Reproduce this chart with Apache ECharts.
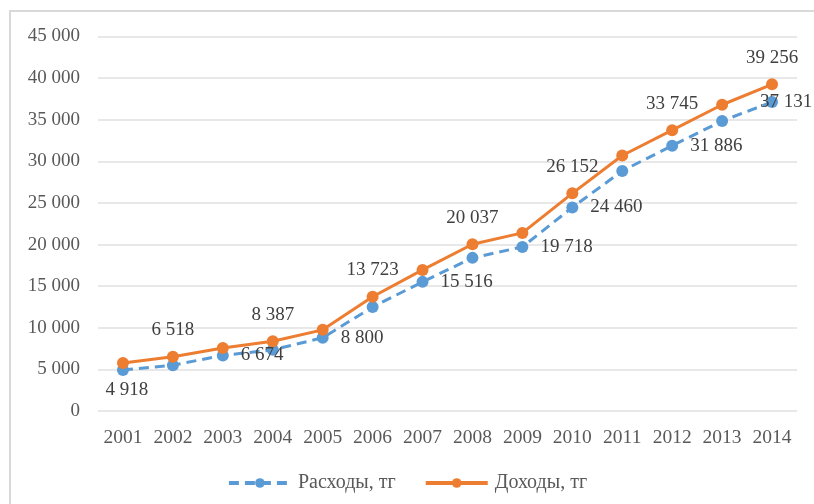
<!DOCTYPE html>
<html>
<head>
<meta charset="utf-8">
<script src="https://cdn.jsdelivr.net/npm/echarts@6/dist/echarts.min.js"></script>
<style>html,body{margin:0;padding:0;background:#fff}#c{width:814px;height:504px}</style>
</head>
<body>
<div id="c"></div>
<script>
const years = ['2001','2002','2003','2004','2005','2006','2007','2008','2009','2010','2011','2012','2013','2014'];
const expenses = [4918, 5500, 6674, 7350, 8800, 12500, 15516, 18400, 19718, 24460, 28850, 31886, 34850, 37131];
const incomes  = [5780, 6518, 7580, 8387, 9750, 13723, 16950, 20037, 21400, 26152, 30700, 33745, 36800, 39256];
const expensesName = 'Расходы, тг';
const incomesName = 'Доходы, тг';
const expenseLabelled = ['2001','2003','2005','2007','2009','2010','2012','2014'];
const incomeLabelled = ['2002','2004','2006','2008','2010','2012','2014'];

const fmt = v => String(Math.round(v)).replace(/\B(?=(\d{3})+(?!\d))/g, ' ');
const FONT = 'Liberation Serif';

function expenseItem(v, i) {
  const y = years[i];
  if (!expenseLabelled.includes(y)) return v;
  let label = { show: true, position: 'right', distance: 12 };
  if (y === '2001') label = { show: true, position: 'bottom', distance: 4, offset: [4, 0] };
  if (y === '2014') label = { show: true, position: 'right', distance: 0, offset: [-18, 0] };
  return { value: v, label };
}
function incomeItem(v, i) {
  const y = years[i];
  if (!incomeLabelled.includes(y)) return v;
  return { value: v, label: { show: true, position: 'top', distance: 11 } };
}

const chart = echarts.init(document.getElementById('c'), null, { renderer: 'canvas' });
chart.setOption({
  animation: false,
  backgroundColor: '#fff',
  graphic: [{
    type: 'rect', shape: { x: 10, y: 11, width: 820, height: 510 },
    style: { fill: 'none', stroke: '#d9d9d9', lineWidth: 2 }, silent: true, z: -1
  }],
  grid: { left: 98, right: 17, top: 36.5, bottom: 93 },
  legend: {
    bottom: 6, left: 'center', itemWidth: 62, itemHeight: 12, itemGap: 28,
    lineStyle: { width: 4 },
    textStyle: { fontFamily: FONT, fontSize: 20, color: '#595959', padding: [0, 0, 0, 2] },
    data: [expensesName, incomesName]
  },
  xAxis: {
    type: 'category', data: years, boundaryGap: true,
    axisLine: { show: false }, axisTick: { show: false },
    axisLabel: { fontFamily: FONT, fontSize: 19.5, color: '#595959', margin: 17, interval: 0 }
  },
  yAxis: {
    type: 'value', min: 0, max: 45000, interval: 5000,
    axisLine: { show: false }, axisTick: { show: false },
    axisLabel: { fontFamily: FONT, fontSize: 19, color: '#595959', margin: 18, formatter: fmt },
    splitLine: { lineStyle: { color: '#e0e0e0', width: 1.5 } }
  },
  series: [
    {
      name: expensesName, type: 'line', data: expenses.map(expenseItem),
      symbol: 'circle', symbolSize: 12,
      lineStyle: { color: '#5B9BD5', width: 3, type: [10, 6] },
      itemStyle: { color: '#5B9BD5' },
      label: { show: false, fontFamily: FONT, fontSize: 19, color: '#404040', formatter: p => fmt(p.value) },
      z: 2
    },
    {
      name: incomesName, type: 'line', data: incomes.map(incomeItem),
      symbol: 'circle', symbolSize: 12,
      lineStyle: { color: '#ED7D31', width: 3 },
      itemStyle: { color: '#ED7D31' },
      label: { show: false, fontFamily: FONT, fontSize: 19, color: '#404040', formatter: p => fmt(p.value) },
      z: 3
    }
  ]
});
</script>
</body>
</html>
